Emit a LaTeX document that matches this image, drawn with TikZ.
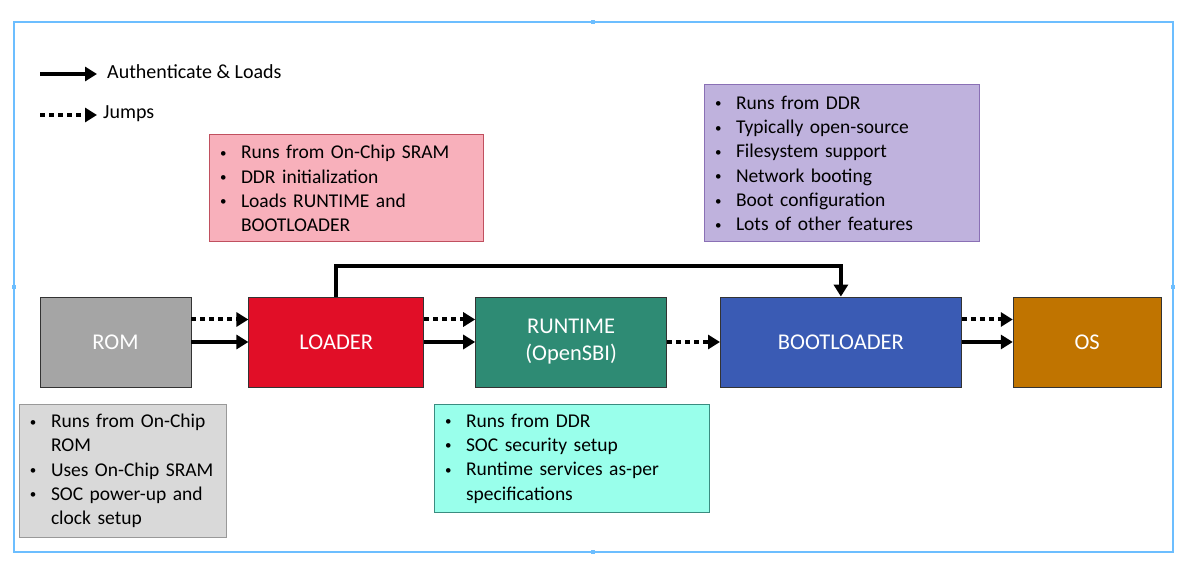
\documentclass[tikz,border=0pt]{standalone}
\usepackage{fontspec}
\setmainfont{Carlito}
\usetikzlibrary{arrows.meta, positioning}

\definecolor{framecol}{HTML}{6CBEFF}
\definecolor{romgray}{HTML}{A5A5A5}
\definecolor{loadred}{HTML}{E10E27}
\definecolor{rtgreen}{HTML}{2E8B74}
\definecolor{bootblue}{HTML}{3A5BB4}
\definecolor{osorange}{HTML}{C07400}
\definecolor{graynote}{HTML}{D9D9D9}
\definecolor{pinknote}{HTML}{F8B0BB}
\definecolor{pinkedge}{HTML}{C0505F}
\definecolor{cyannote}{HTML}{99FFEB}
\definecolor{cyanedge}{HTML}{3A8C80}
\definecolor{purplenote}{HTML}{BFB2DD}
\definecolor{purpleedge}{HTML}{8A70B5}

\newcommand{\bl}[1]{\mbox{\makebox[21pt][l]{\raisebox{1.5pt}{\fontsize{13}{13}\selectfont\textbullet}}#1}}
\newcommand{\ind}[1]{\mbox{\hspace*{21pt}#1}}

\begin{document}
\begin{tikzpicture}[
    x=1pt, y=-1pt,
    node distance=52pt,
    every node/.style={font=\fontsize{19.5}{24.3}\selectfont},
    stage/.style={draw=black!80, line width=0.8pt, text=white, font=\fontsize{22.5}{27}\selectfont,
        minimum height=90pt, inner sep=0pt, align=center},
    note/.style={line width=1pt, align=left, inner xsep=11pt, inner ysep=0pt},
    load/.style={line width=4pt, -{Triangle[length=12pt,width=14pt]}},
    jump/.style={load, dash pattern=on 5pt off 4pt}
]
\useasboundingbox (0,0) rectangle (1195,577);

% Frame
\draw[framecol, line width=1.5pt] (14,22) rectangle (1173,552);
\fill[framecol] (591,20) rectangle (595,24);
\fill[framecol] (591,550) rectangle (595,554);
\fill[framecol] (12,285) rectangle (16,289);
\fill[framecol] (1171,285) rectangle (1175,289);

% Legend
\coordinate (authfrom) at (40,74);
\coordinate (authto) at (97,74);
\coordinate (jumpfrom) at (40,115);
\coordinate (jumpto) at (97,115);
\node[anchor=west, inner sep=0pt, font=\fontsize{20}{24}\selectfont] (authlbl) at (107,72) {Authenticate \& Loads};
\node[anchor=west, inner sep=0pt, font=\fontsize{20}{24}\selectfont] (jumplbl) at (103,114) {Jumps};

% Stages
\node[stage, fill=romgray, minimum width=151pt] (rom) at (115.5,342) {ROM};
\node[stage, fill=loadred, minimum width=175pt, right=57pt of rom] (loader) {LOADER};
\node[stage, fill=rtgreen, minimum width=191pt, right=51pt of loader] (runtime) {RUNTIME\\(OpenSBI)};
\node[stage, fill=bootblue, minimum width=241pt, right=53pt of runtime] (boot) {BOOTLOADER};
\node[stage, fill=osorange, minimum width=148pt, right=51pt of boot] (os) {OS};

% Notes
\node[note, fill=graynote, draw=black!40, text width=185pt, minimum height=132pt] (romnote) at (122.5,471)
    {\bl{Runs from On-Chip}\\ \ind{ROM}\\ \bl{Uses On-Chip SRAM}\\ \bl{SOC power-up and}\\ \ind{clock setup}};
\node[note, fill=pinknote, draw=pinkedge, text width=252pt, minimum height=107pt] (loadernote) at (346,188.5)
    {\bl{Runs from On-Chip SRAM}\\ \bl{DDR initialization}\\ \bl{Loads RUNTIME and}\\ \ind{BOOTLOADER}};
\node[note, fill=cyannote, draw=cyanedge, text width=253pt, minimum height=107pt] (runtimenote) at (571.5,458.5)
    {\bl{Runs from DDR}\\ \bl{SOC security setup}\\ \bl{Runtime services as-per}\\ \ind{specifications}};
\node[note, fill=purplenote, draw=purpleedge, text width=253pt, minimum height=157pt] (bootnote) at (841.5,163.5)
    {\bl{Runs from DDR}\\ \bl{Typically open-source}\\ \bl{Filesystem support}\\ \bl{Network booting}\\ \bl{Boot configuration}\\ \bl{Lots of other features}};

% Edges
\draw[load] (authfrom) -- (authto);
\draw[jump] (jumpfrom) -- (jumpto);

\draw[jump] ([yshift=22.5pt]rom.east) -- ([yshift=22.5pt]loader.west);
\draw[load] (rom.east) -- (loader.west);
\draw[jump] ([yshift=22.5pt]loader.east) -- ([yshift=22.5pt]runtime.west);
\draw[load] (loader.east) -- (runtime.west);
\draw[jump] (runtime.east) -- (boot.west);
\draw[jump] ([yshift=22.5pt]boot.east) -- ([yshift=22.5pt]os.west);
\draw[load] (boot.east) -- (os.west);
\draw[load] (loader.north) -- ++(0,-31) -| (boot.north);

\end{tikzpicture}
\end{document}
